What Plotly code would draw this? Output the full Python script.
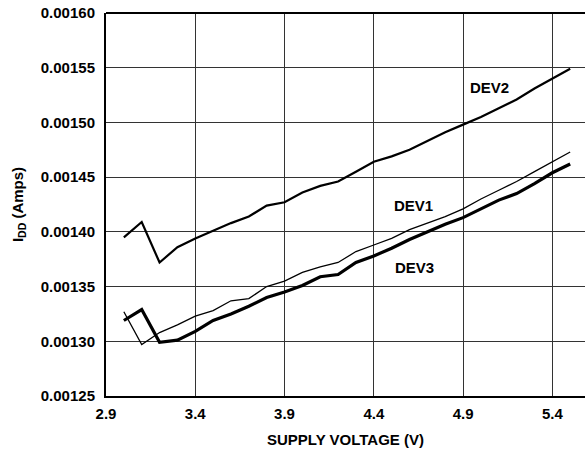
import plotly.graph_objects as go

voltage = [3.0, 3.1, 3.2, 3.3, 3.4, 3.5, 3.6, 3.7, 3.8, 3.9, 4.0, 4.1, 4.2, 4.3,
           4.4, 4.5, 4.6, 4.7, 4.8, 4.9, 5.0, 5.1, 5.2, 5.3, 5.4, 5.5]

dev1 = [0.001327, 0.001297, 0.001308, 0.001315, 0.001323, 0.001328, 0.001337,
        0.001339, 0.001350, 0.001355, 0.001363, 0.001368, 0.001372, 0.001382,
        0.001388, 0.001394, 0.001402, 0.001408, 0.001414, 0.001421, 0.001430,
        0.001438, 0.001446, 0.001455, 0.001464, 0.001473]

dev2 = [0.001395, 0.001409, 0.001372, 0.001386, 0.001394, 0.001401, 0.001408,
        0.001414, 0.001424, 0.001427, 0.001436, 0.001442, 0.001446, 0.001455,
        0.001464, 0.001469, 0.001475, 0.001483, 0.001491, 0.001498, 0.001505,
        0.001513, 0.001521, 0.001531, 0.001540, 0.001549]

dev3 = [0.001319, 0.001329, 0.001299, 0.001301, 0.001309, 0.001319, 0.001325,
        0.001332, 0.001340, 0.001345, 0.001351, 0.001359, 0.001361, 0.001372,
        0.001378, 0.001385, 0.001393, 0.001400, 0.001407, 0.001413, 0.001421,
        0.001429, 0.001435, 0.001444, 0.001454, 0.001462]

x_ticks = [2.9, 3.4, 3.9, 4.4, 4.9, 5.4]
x_tick_labels = ["2.9", "3.4", "3.9", "4.4", "4.9", "5.4"]
y_ticks = [0.00125, 0.00130, 0.00135, 0.00140, 0.00145, 0.00150, 0.00155, 0.00160]
y_tick_labels = ["0.00125", "0.00130", "0.00135", "0.00140", "0.00145",
                 "0.00150", "0.00155", "0.00160"]

labels = ["DEV1", "DEV2", "DEV3"]
label_x = [4.625, 5.05, 4.63]
label_y = [0.001424, 0.001532, 0.001367]

FONT = "Liberation Sans, Arial, Helvetica, sans-serif"
FS = 15

fig = go.Figure()
fig.add_trace(go.Scatter(x=voltage, y=dev2, mode="lines", name="DEV2",
                         line=dict(color="black", width=2.2)))
fig.add_trace(go.Scatter(x=voltage, y=dev1, mode="lines", name="DEV1",
                         line=dict(color="black", width=1.3)))
fig.add_trace(go.Scatter(x=voltage, y=dev3, mode="lines", name="DEV3",
                         line=dict(color="black", width=3.2)))

for t, lx, ly in zip(labels, label_x, label_y):
    fig.add_annotation(x=lx, y=ly, text="<b>%s</b>" % t, showarrow=False,
                       font=dict(family=FONT, size=FS, color="black"))

# top border only (no right border in reference)
fig.add_shape(type="line", xref="paper", yref="paper", x0=0, x1=1, y0=1, y1=1,
              line=dict(color="black", width=2))

fig.update_layout(
    width=585, height=455,
    margin=dict(l=106, r=0, t=13, b=59),
    paper_bgcolor="white", plot_bgcolor="white",
    showlegend=False,
    hovermode=False,
    font=dict(family=FONT, size=FS, color="black"),
    xaxis=dict(
        range=[2.9, 5.583], tickvals=x_ticks, ticktext=["<b>%s</b>" % s for s in x_tick_labels],
        showgrid=True, gridcolor="#333333", gridwidth=1.2,
        showline=True, linecolor="black", linewidth=2,
        ticks="", zeroline=False, ticklabelstandoff=3,
        ticklabeloverflow="allow",
        title=dict(text="<b>SUPPLY VOLTAGE (V)</b>", standoff=13,
                   font=dict(family=FONT, size=FS)),
        tickfont=dict(family=FONT, size=FS),
        automargin=False,
    ),
    yaxis=dict(
        range=[0.00125, 0.00160], tickvals=y_ticks, ticktext=["<b>%s</b>" % s for s in y_tick_labels],
        showgrid=True, gridcolor="#333333", gridwidth=1.2,
        showline=True, linecolor="black", linewidth=2,
        ticks="", zeroline=False, ticklabelstandoff=6,
        ticklabeloverflow="allow",
        title=dict(text="<b>I<sub>DD</sub> (Amps)</b>", standoff=14,
                   font=dict(family=FONT, size=FS)),
        tickfont=dict(family=FONT, size=FS),
        automargin=False,
    ),
)

fig.write_html("out.html", config={"displayModeBar": False},
               post_script="document.body.style.margin='0';")
